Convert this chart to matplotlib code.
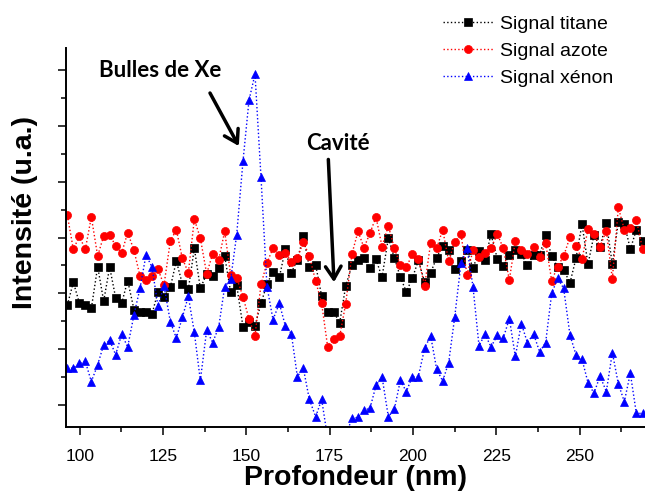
import matplotlib
matplotlib.use("Agg")
import matplotlib.pyplot as plt
from matplotlib.ticker import MultipleLocator

plt.rcParams['font.family'] = ['Liberation Sans', 'DejaVu Sans']

# profondeur (nm)
depth = [96.3, 98.1, 99.9, 101.7, 103.5, 105.4, 107.2, 109.0, 110.8, 112.6,
         114.4, 116.3, 118.1, 119.9, 121.7, 123.5, 125.3, 127.2, 129.0, 130.8,
         132.6, 134.4, 136.2, 138.1, 139.9, 141.7, 143.5, 145.3, 147.1, 149.0,
         150.8, 152.6, 154.4, 156.2, 158.0, 159.9, 161.7, 163.5, 165.3, 167.1,
         168.9, 170.8, 172.6, 174.4, 176.2, 178.0, 179.8, 181.7, 183.5, 185.3,
         187.1, 188.9, 190.7, 192.6, 194.4, 196.2, 198.0, 199.8, 201.6, 203.5,
         205.3, 207.1, 208.9, 210.7, 212.5, 214.4, 216.2, 218.0, 219.8, 221.6,
         223.4, 225.3, 227.1, 228.9, 230.7, 232.5, 234.3, 236.2, 238.0, 239.8,
         241.6, 243.4, 245.2, 247.1, 248.9, 250.7, 252.5, 254.3, 256.1, 258.0,
         259.8, 261.6, 263.4, 265.2, 267.0, 268.9]

titane = [279, 320, 283, 279, 273, 348, 286, 347, 292, 282,
          323, 271, 267, 266, 263, 303, 294, 311, 358, 317,
          307, 381, 309, 335, 332, 345, 367, 302, 315, 240,
          249, 242, 282, 317, 339, 329, 379, 337, 360, 402,
          347, 351, 295, 267, 267, 247, 313, 351, 359, 363,
          345, 361, 329, 399, 364, 329, 303, 327, 359, 320,
          337, 364, 385, 378, 343, 358, 378, 345, 376, 360,
          406, 362, 349, 369, 378, 371, 350, 369, 369, 405,
          367, 347, 342, 319, 363, 424, 352, 405, 383, 427,
          352, 428, 425, 379, 414, 394]

azote = [440, 379, 402, 379, 437, 367, 403, 405, 385, 372,
         409, 377, 331, 324, 332, 343, 315, 394, 414, 363,
         337, 433, 399, 335, 371, 360, 411, 333, 328, 294,
         254, 224, 316, 355, 381, 369, 372, 357, 363, 392,
         367, 322, 282, 204, 218, 223, 281, 371, 411, 382,
         408, 437, 384, 421, 381, 351, 347, 370, 362, 314,
         391, 381, 414, 358, 392, 406, 333, 378, 366, 372,
         381, 406, 381, 324, 394, 378, 371, 384, 366, 390,
         323, 348, 367, 401, 385, 361, 415, 406, 384, 412,
         326, 454, 414, 418, 432, 379]

xenon = [166, 166, 175, 178, 142, 172, 208, 216, 190, 227,
         204, 262, 309, 369, 347, 277, 314, 249, 220, 257,
         295, 230, 144, 234, 212, 239, 312, 325, 405, 537,
         646, 693, 508, 312, 253, 282, 242, 228, 151, 166,
         110, 79, 110, 40, 25, 30, 45, 76, 78, 91,
         94, 135, 151, 79, 92, 144, 124, 151, 151, 202,
         224, 164, 143, 176, 257, 354, 381, 312, 206, 227,
         204, 225, 220, 255, 187, 246, 212, 227, 195, 212,
         300, 327, 309, 225, 190, 182, 140, 121, 152, 124,
         194, 138, 106, 157, 85, 85]

fig = plt.figure(figsize=(6.45, 4.96), dpi=100)
ax = fig.add_axes([66 / 645, 69 / 496, 1 - 66 / 645, 379 / 496])

ax.plot(depth, titane, color='black', ls=':', lw=1, marker='s', ms=5.3,
        mec='black', mew=0.5, label='Signal titane')
ax.plot(depth, azote, color='red', ls=':', lw=1, marker='o', ms=5.8,
        mec='red', mew=0.5, label='Signal azote')
ax.plot(depth, xenon, color='blue', ls=':', lw=1, marker='^', ms=6.3,
        mec='blue', mew=0.5, label='Signal xénon')

ax.set_xlim(95.9, 269.6)
ax.set_ylim(60.6, 739.7)
ax.spines['top'].set_visible(False)
ax.spines['right'].set_visible(False)
ax.spines['left'].set_linewidth(1.4)
ax.spines['bottom'].set_linewidth(1.4)

ax.xaxis.set_major_locator(MultipleLocator(25))
ax.xaxis.set_minor_locator(MultipleLocator(12.5))
ax.yaxis.set_major_locator(MultipleLocator(100))
ax.yaxis.set_minor_locator(MultipleLocator(50))
ax.tick_params(which='major', direction='out', length=6, width=1.1,
               labelsize=12.5, pad=10)
ax.tick_params(which='minor', direction='out', length=3.5, width=1.1)
ax.tick_params(axis='y', labelleft=False)

fig.text(355 / 645, 1 - 478 / 496, 'Profondeur (nm)', ha='center', va='center',
         fontsize=20.5, fontweight='bold')
fig.text(25 / 645, 1 - 212 / 496, 'Intensité (u.a.)', ha='center', va='center',
         rotation=90, fontsize=20.5, fontweight='bold')

arrow = dict(arrowstyle='->,head_length=0.45,head_width=0.28', lw=2.5,
             color='black', mutation_scale=20, shrinkA=0, shrinkB=0)
ax.text(124.2, 700, 'Bulles de Xe', ha='center', va='center', fontsize=16,
        fontweight='bold', family='Lato')
ax.annotate('', xy=(147.75, 564), xytext=(139.1, 659), arrowprops=arrow)
ax.text(177.5, 569, 'Cavité', ha='center', va='center', fontsize=16,
        fontweight='bold', family='Lato')
ax.annotate('', xy=(176.3, 320), xytext=(174.6, 540), arrowprops=arrow)

fig.legend(loc='upper left', bbox_to_anchor=(443 / 645, 1 - 15.5 / 496),
           frameon=False, fontsize=14, handlelength=2.55, handletextpad=0.4,
           labelspacing=0.47, borderpad=0, borderaxespad=0)

fig.savefig('out.png', dpi=100)
